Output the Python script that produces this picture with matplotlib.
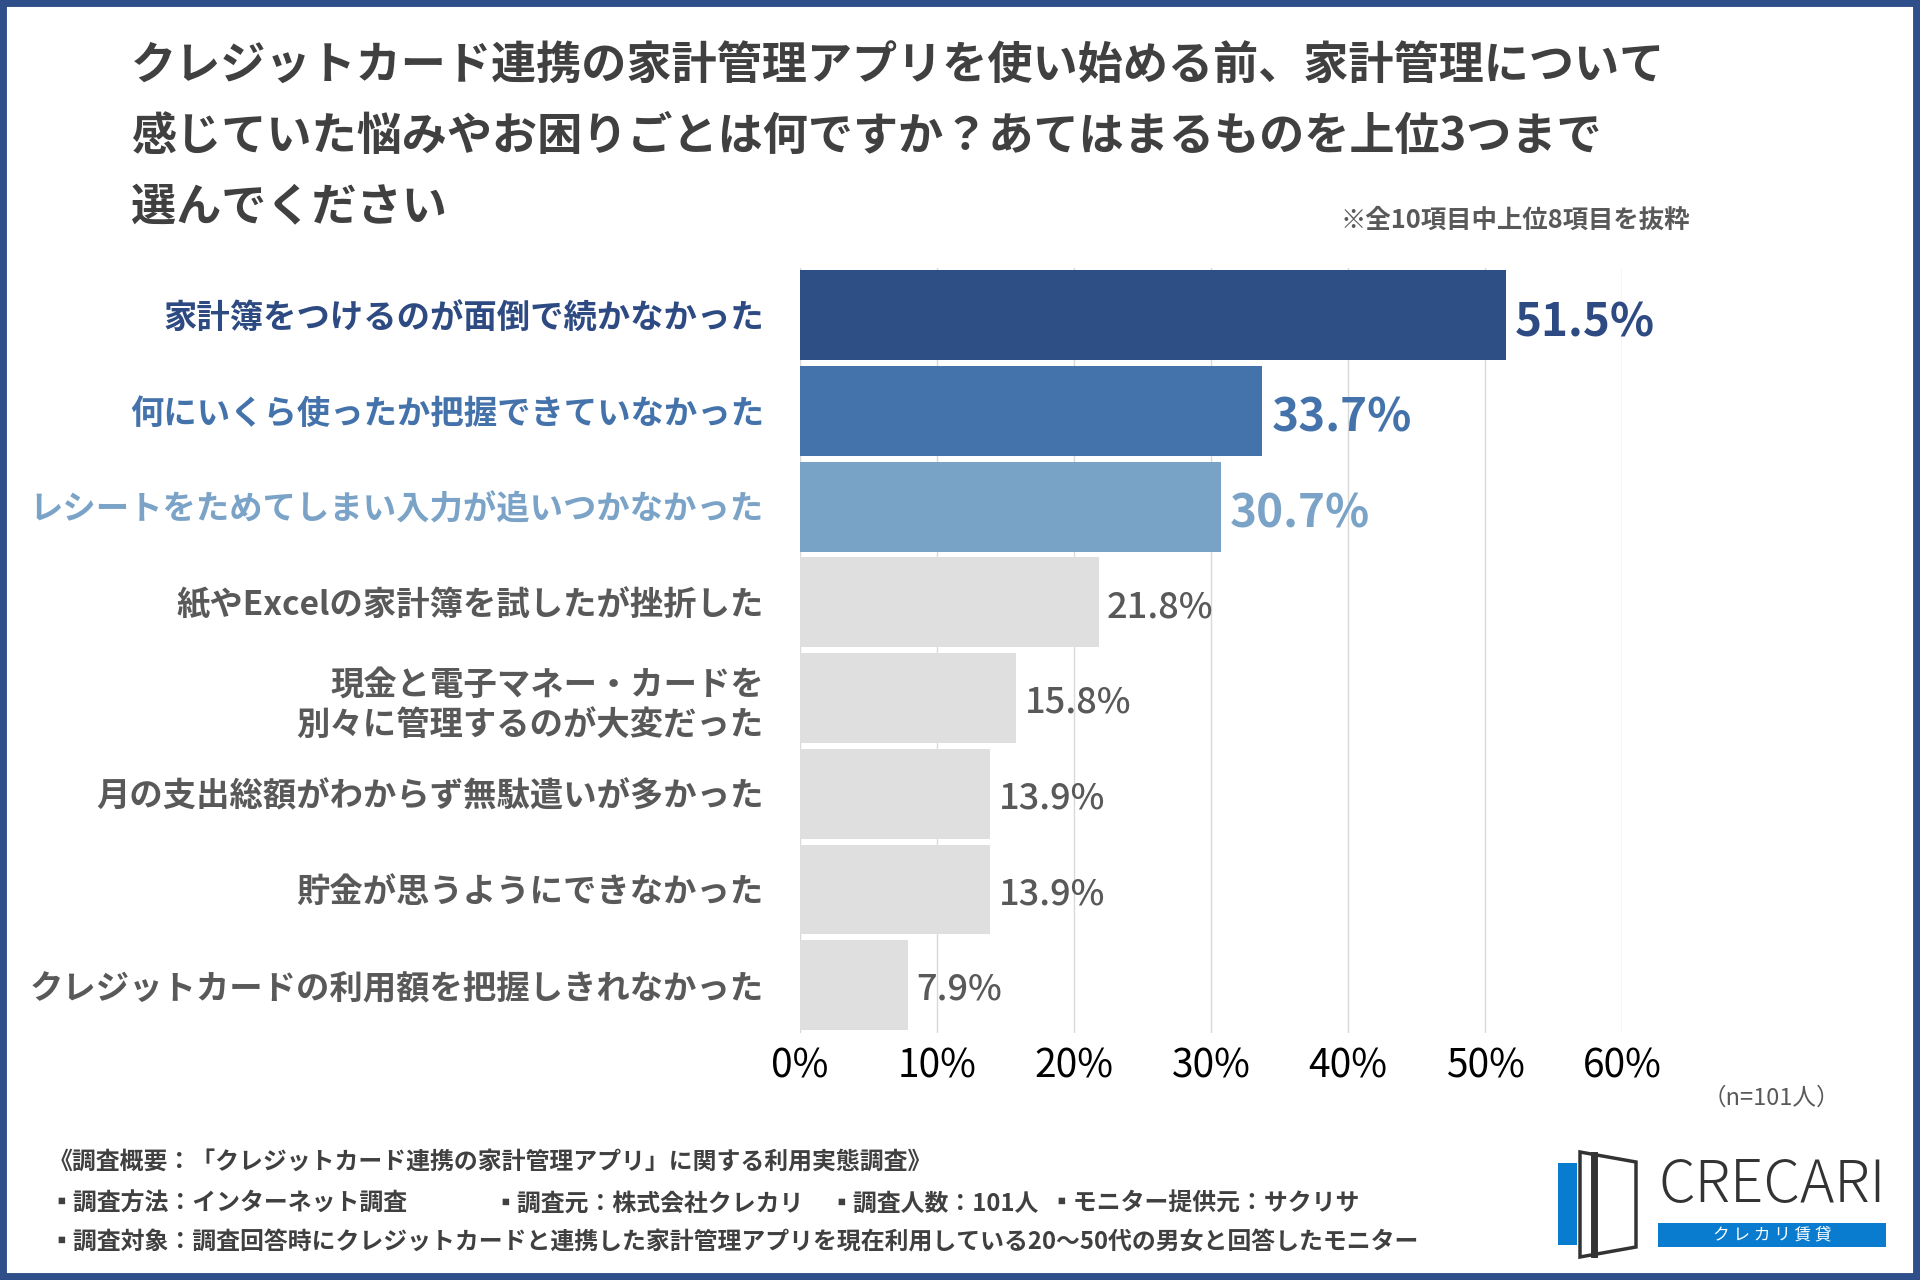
import matplotlib.pyplot as plt
from matplotlib.patches import Rectangle, Polygon
from matplotlib.lines import Line2D

plt.rcParams['font.family'] = ['Noto Sans CJK JP', 'DejaVu Sans']

# データ
labels = ['家計簿をつけるのが面倒で続かなかった',
          '何にいくら使ったか把握できていなかった',
          'レシートをためてしまい入力が追いつかなかった',
          '紙やExcelの家計簿を試したが挫折した',
          '現金と電子マネー・カードを\n別々に管理するのが大変だった',
          '月の支出総額がわからず無駄遣いが多かった',
          '貯金が思うようにできなかった',
          'クレジットカードの利用額を把握しきれなかった']
values = [51.5, 33.7, 30.7, 21.8, 15.8, 13.9, 13.9, 7.9]
xticks = [0, 10, 20, 30, 40, 50, 60]

title_lines = ['クレジットカード連携の家計管理アプリを使い始める前、家計管理について',
               '感じていた悩みやお困りごとは何ですか？あてはまるものを上位3つまで',
               '選んでください']
note = '※全10項目中上位8項目を抜粋'
n_text = '（n=101人）'
footer1 = '《調査概要：「クレジットカード連携の家計管理アプリ」に関する利用実態調査》'
footer2 = ['▪調査方法：インターネット調査', '▪調査元：株式会社クレカリ',
           '▪調査人数：101人', '▪モニター提供元：サクリサ']
footer3 = '▪調査対象：調査回答時にクレジットカードと連携した家計管理アプリを現在利用している20～50代の男女と回答したモニター'

bar_cols = ['#2E4E86', '#4472AA', '#78A3C6'] + ['#DFDFDF'] * 5
lab_cols = ['#2E4A82', '#4472AA', '#7AA3C7'] + ['#595959'] * 5

W, H = 1920, 1280
fig = plt.figure(figsize=(19.2, 12.8), dpi=100)
fig.patch.set_facecolor('white')

def fx(px):
    return px / W

def fy(py):
    return 1 - py / H

ax = fig.add_axes([fx(800), fy(1033), fx(1622) - fx(800), fy(267.6) - fy(1033)])
ypos = list(range(len(values)))
ax.barh(ypos, values, height=0.94, color=bar_cols, zorder=2)
ax.set_ylim(len(values) - 0.5, -0.5)
ax.set_xlim(0, 60)
ax.set_xticks(xticks)
ax.set_xticklabels([f'{t}%' for t in xticks], fontsize=28, color='black')
ax.set_yticks(ypos)
ax.set_yticklabels(labels, fontsize=24, fontweight='bold', linespacing=1.3)
for t, c in zip(ax.get_yticklabels(), lab_cols):
    t.set_color(c)
ax.tick_params(axis='both', length=0)
ax.tick_params(axis='y', pad=26)
ax.tick_params(axis='x', pad=10)
for s in ax.spines.values():
    s.set_visible(False)
ax.grid(axis='x', color='#D9D9D9', lw=1, zorder=0)
ax.set_axisbelow(True)

for i, v in enumerate(values):
    if i < 3:
        ax.text(v + 0.7, i + 0.08, f'{v}%', fontsize=33, fontweight='bold',
                color=lab_cols[i], va='center', ha='left', clip_on=False)
    else:
        ax.text(v + 0.6, i + 0.05, f'{v}%', fontsize=26, fontweight='medium',
                color='#595959', va='center', ha='left', clip_on=False)

# タイトル
for line, yy in zip(title_lines, [67, 137, 208]):
    fig.text(fx(131), fy(yy), line, fontsize=32.5, fontweight='bold', color='#404040',
             ha='left', va='center')
fig.text(fx(1690), fy(220), note, fontsize=18.3, fontweight='bold', color='#595959',
         ha='right', va='center')
fig.text(fx(1840), fy(1098), n_text, fontsize=17, color='#595959', ha='right', va='center')

# 注記
fig.text(fx(49), fy(1163), footer1, fontsize=17.2, fontweight='bold', color='#404040',
         ha='left', va='center')
for s, xx in zip(footer2, [49, 493, 829, 1049]):
    fig.text(fx(xx), fy(1204), s, fontsize=17.2, fontweight='bold', color='#404040',
             ha='left', va='center')
fig.text(fx(49), fy(1243), footer3, fontsize=17.2, fontweight='bold', color='#404040',
         ha='left', va='center')

# ロゴ
fig.patches.append(Rectangle((fx(1558), fy(1245)), fx(1577) - fx(1558), fy(1163) - fy(1245),
                             transform=fig.transFigure, facecolor='#0A7CCF', edgecolor='none'))
fig.patches.append(Polygon([(fx(1580), fy(1152)), (fx(1636), fy(1162)),
                            (fx(1636), fy(1247)), (fx(1580), fy(1257))],
                           closed=True, transform=fig.transFigure, facecolor='white',
                           edgecolor='#333333', lw=2.5))
fig.lines.append(Line2D([fx(1594), fx(1594)], [fy(1155), fy(1254)], transform=fig.transFigure,
                        color='#333333', lw=5))
fig.text(fx(1772), fy(1186), 'CRECARI', fontsize=42, fontweight='light', color='#333333',
         ha='center', va='center')
fig.patches.append(Rectangle((fx(1658), fy(1247)), fx(1886) - fx(1658), fy(1223) - fy(1247),
                             transform=fig.transFigure, facecolor='#0A7CCF', edgecolor='none'))
fig.text(fx(1772), fy(1235), 'ク レ カ リ 賃 貸', fontsize=12, color='white',
         ha='center', va='center')

# 枠
fig.patches.append(Rectangle((0, 0), 1, 1, transform=fig.transFigure, facecolor='none',
                             edgecolor='#2E4F8A', lw=10))

fig.savefig('out.png', dpi=100)
